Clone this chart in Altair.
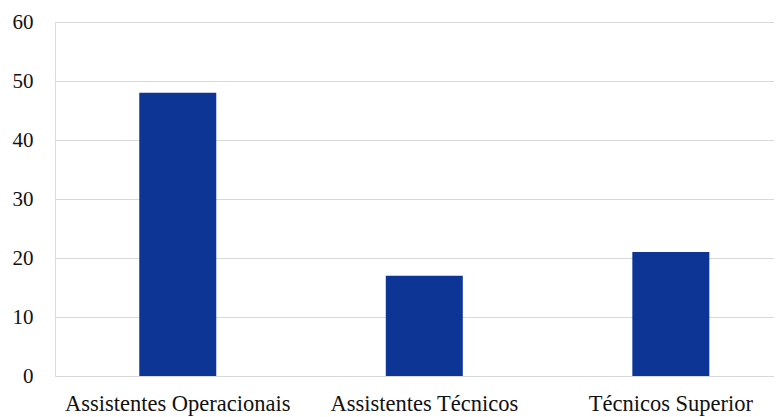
import altair as alt
import pandas as pd

categories = ["Assistentes Operacionais", "Assistentes Técnicos", "Técnicos Superior"]
values = [48, 17, 21]

df = pd.DataFrame({"cat": categories, "val": values})

chart = alt.Chart(df).mark_bar(color="#0d3595", size=77).encode(
    x=alt.X("cat:N", sort=categories, title=None,
            scale=alt.Scale(paddingInner=0.6856, paddingOuter=0.301, align=0.566),
            axis=alt.Axis(labelAngle=0, labelFont="Liberation Serif", labelFontSize=22.5,
                          labelColor="#111111", labelPadding=16, labelLimit=0, ticks=False,
                          domain=False, grid=False)),
    y=alt.Y("val:Q", title=None,
            scale=alt.Scale(domain=[0, 60], nice=False),
            axis=alt.Axis(values=[0, 10, 20, 30, 40, 50, 60], labelFont="Liberation Serif",
                          labelFontSize=21, labelColor="#111111", labelPadding=22,
                          ticks=False, domain=False, gridColor="#d9d9d9", gridWidth=1.2)),
).properties(
    width=719, height=354,
    autosize=alt.AutoSizeParams(type="none"),
    padding={"left": 47, "top": 14, "right": 0, "bottom": 40},
).configure_view(stroke=None).configure(background="white")

chart.save("out.html", embed_options={"renderer": "svg", "actions": False})
